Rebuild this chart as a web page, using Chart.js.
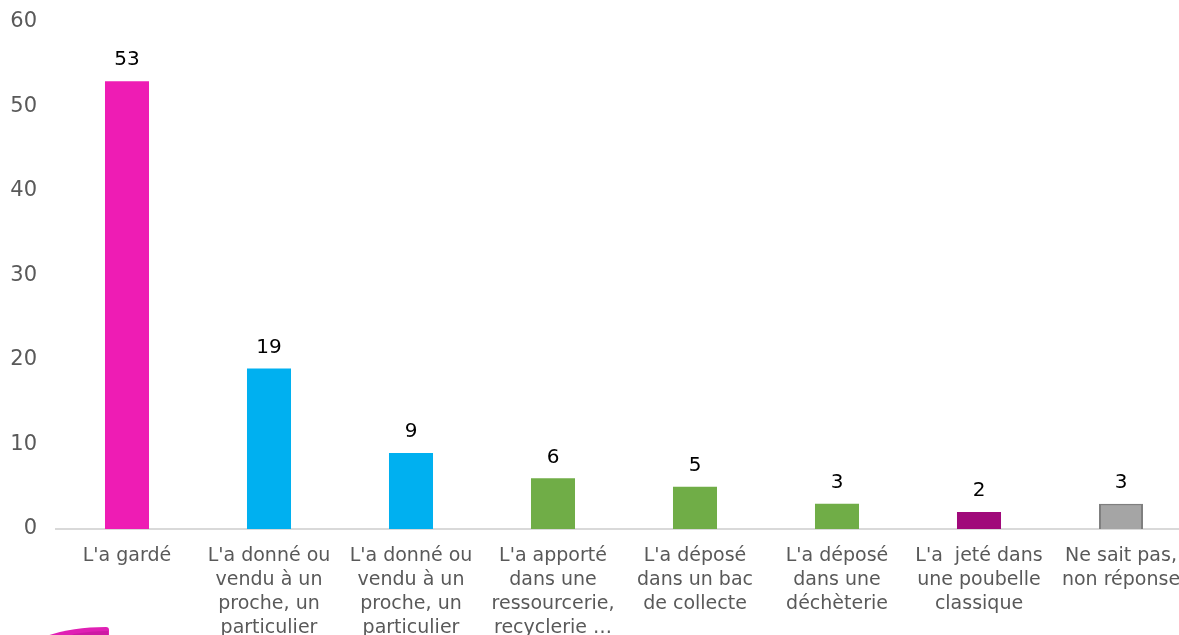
<!DOCTYPE html>
<html lang="fr">
<head>
<meta charset="utf-8">
<title>Devenir de l'objet</title>
<script src="https://cdn.jsdelivr.net/npm/chart.js@4/dist/chart.umd.min.js"></script>
<style>
  html, body { margin: 0; padding: 0; background: #ffffff; overflow: hidden; }
  body { width: 1179px; height: 635px; position: relative; }
  #wrap { position: absolute; left: 0; top: 0; width: 1200px; height: 690px; }
  #logo { position: absolute; left: 44px; top: 624px; }
</style>
</head>
<body>
<div id="wrap"><canvas id="chart" width="1200" height="690"></canvas></div>
<svg id="logo" width="70" height="14" viewBox="0 0 70 14">
  <path d="M2 12 C 20 6, 40 3, 62 3 Q 65 3 65 6 L 65 14 L 0 14 Z" fill="#e020b4"/>
  <path d="M30 10 C 42 8, 52 7, 64 7 L 64 14 L 20 14 Z" fill="#c0189a" opacity="0.6"/>
</svg>
<script>
// Répartition des réponses (%)
const categories = [
  ["L'a gardé"],
  ["L'a donné ou", "vendu à un", "proche, un", "particulier"],
  ["L'a donné ou", "vendu à un", "proche, un", "particulier"],
  ["L'a apporté", "dans une", "ressourcerie,", "recyclerie …"],
  ["L'a déposé", "dans un bac", "de collecte"],
  ["L'a déposé", "dans une", "déchèterie"],
  ["L'a  jeté dans", "une poubelle", "classique"],
  ["Ne sait pas,", "non réponse"]
];
const values = [53, 19, 9, 6, 5, 3, 2, 3];
const barColors = ["#ee1cb4", "#00b0f0", "#00b0f0", "#70ad47", "#70ad47", "#70ad47", "#a0097a", "#a5a5a5"];
const barBorders = ["#ee1cb4", "#00b0f0", "#00b0f0", "#70ad47", "#70ad47", "#70ad47", "#a0097a", "#7f7f7f"];
const yTicks = [0, 10, 20, 30, 40, 50, 60];

const FONT = "'DejaVu Sans', Verdana, sans-serif";

// Valeur affichée au-dessus de chaque barre
const valueLabels = {
  id: 'valueLabels',
  afterDatasetsDraw(chart) {
    const ctx = chart.ctx;
    const meta = chart.getDatasetMeta(0);
    ctx.save();
    ctx.font = "20px " + FONT;
    ctx.fillStyle = "#000000";
    ctx.textAlign = "center";
    ctx.textBaseline = "bottom";
    meta.data.forEach((bar, i) => {
      ctx.fillText(String(values[i]), bar.x, bar.y - 11);
    });
    ctx.restore();
  }
};

new Chart(document.getElementById('chart'), {
  type: 'bar',
  data: {
    labels: categories,
    datasets: [{
      data: values,
      backgroundColor: barColors,
      borderColor: barBorders,
      borderWidth: (c) => c.dataIndex === 7 ? 2 : 0,
      categoryPercentage: 1,
      barPercentage: 0.31
    }]
  },
  options: {
    responsive: false,
    animation: false,
    layout: { padding: { top: 22, right: 8, left: 0, bottom: 0 } },
    plugins: { legend: { display: false }, tooltip: { enabled: false } },
    scales: {
      x: {
        grid: { display: false, drawTicks: false },
        border: { display: true, color: "#d9d9d9", width: 2 },
        ticks: {
          color: "#595959",
          font: { family: FONT, size: 19, lineHeight: 1.265 },
          padding: 15,
          maxRotation: 0,
          autoSkip: false
        },
        afterFit(scale) {
          scale.height = 690 - 529;
          scale.paddingLeft = 0;
          scale.paddingRight = 0;
        }
      },
      y: {
        min: 0,
        max: 60,
        grid: { display: false, drawTicks: false },
        border: { display: false },
        afterBuildTicks(scale) { scale.ticks = yTicks.map(v => ({ value: v })); },
        ticks: {
          color: "#595959",
          font: { family: FONT, size: 21 },
          padding: 19,
          callback: (v) => String(v)
        },
        afterFit(scale) {
          scale.width = 56;
          scale.paddingTop = 0;
          scale.paddingBottom = 0;
        }
      }
    }
  },
  plugins: [valueLabels]
});
</script>
</body>
</html>
